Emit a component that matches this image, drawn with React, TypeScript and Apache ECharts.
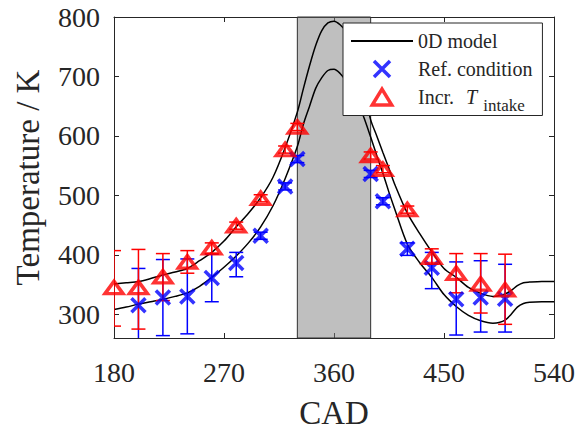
import { useEffect, useRef } from "react";
import * as echarts from "echarts";

// Axis ticks
const cadTicks = [180, 270, 360, 450, 540];
const tempTicks = [300, 400, 500, 600, 700, 800];

// Window around TDC where no measurement is taken
const tdcWindow = [330, 390];

// 0D model traces (CAD, K)
const modelCad = [
  180, 190, 200, 210, 220, 230, 240, 250, 260, 270, 280, 290, 300, 310, 320, 330,
  335, 340, 345, 350, 355, 360, 365, 370, 375, 380, 385, 390, 395, 400, 405, 410,
  420, 430, 440, 450, 460, 470, 480, 490, 495, 500, 505, 510, 515, 520, 530, 540,
];
const modelIncr = [
  351, 353, 355, 360, 366, 371, 377, 390, 404, 423, 447, 470, 496, 530, 580, 640,
  680, 718, 752, 777, 790, 793, 787, 775, 750, 715, 672, 627, 600, 572, 545, 517,
  470, 436, 405, 377, 362, 345, 335, 330, 331, 334, 340, 348, 353, 354, 355, 355,
];
const modelRef = [
  308, 312, 317, 321, 325, 330, 336, 347, 362, 379, 398, 420, 447, 482, 528, 582,
  620, 650, 680, 698, 710, 712, 705, 692, 675, 655, 628, 598, 567, 537, 505, 475,
  418, 387, 362, 333, 313, 298, 289, 285, 286, 290, 300, 312, 318, 320, 321, 321,
];

// Reference condition measurements
const refCad = [200, 220, 240, 260, 280, 300, 320, 330, 390, 400, 420, 440, 460, 480, 500];
const refT = [315, 328, 330, 361, 386, 432, 515, 561, 536, 490, 410, 378, 325, 328, 326];
const refLow = [253, 264, 267, 321, 363, 426, 509, 555, 530, 484, 399, 343, 265, 270, 270];
const refHigh = [377, 392, 393, 401, 404, 438, 521, 567, 542, 496, 420, 404, 388, 390, 384];

// Increased intake temperature measurements
const incrCad = [180, 200, 220, 240, 260, 280, 300, 320, 330, 390, 400, 420, 440, 460, 480, 500];
const incrT = [345, 345, 363, 388, 412, 449, 495, 577, 615, 567, 544, 476, 396, 369, 351, 341];
const incrLow = [280, 275, 323, 369, 402, 443, 489, 571, 609, 561, 538, 470, 384, 336, 302, 283];
const incrHigh = [407, 409, 402, 407, 420, 455, 501, 583, 621, 573, 550, 482, 410, 402, 402, 401];

const FONT = "'Liberation Serif', 'Times New Roman', serif";
const INK = "#262626";
const BLUE = "#0000ff";
const RED = "#ff0000";
const CROSS = "path://M0,0L10,10M0,10L10,0";
const TRIANGLE = "path://M0,14L8.5,0L17,14Z";

const pairs = (xs: number[], ys: number[]) => xs.map((x, i) => [x, ys[i]]);
const triples = (xs: number[], lo: number[], hi: number[]) => xs.map((x, i) => [x, lo[i], hi[i]]);

function errorBars(color: string) {
  return (_params: any, api: any) => {
    const x = api.value(0);
    const lo = api.coord([x, api.value(1)]);
    const hi = api.coord([x, api.value(2)]);
    const hw = 7;
    const style = { stroke: color, lineWidth: 1.5, fill: "none" };
    return {
      type: "group",
      children: [
        { type: "line", shape: { x1: lo[0], y1: lo[1], x2: hi[0], y2: hi[1] }, style },
        { type: "line", shape: { x1: hi[0] - hw, y1: hi[1], x2: hi[0] + hw, y2: hi[1] }, style },
        { type: "line", shape: { x1: lo[0] - hw, y1: lo[1], x2: lo[0] + hw, y2: lo[1] }, style },
      ],
    };
  };
}

const frameAxis = {
  axisLine: { show: true, lineStyle: { color: INK, width: 1 } },
  axisTick: { show: true, inside: true, length: 5, lineStyle: { color: INK } },
  splitLine: { show: false },
};

export default function App() {
  const ref = useRef<HTMLDivElement>(null);

  useEffect(() => {
    if (!ref.current) return;
    document.body.style.margin = "0";
    const chart = echarts.init(ref.current, null, { renderer: "svg" });

    const xBase = { type: "value", min: cadTicks[0], max: cadTicks[cadTicks.length - 1], interval: 90 };
    const yBase = { type: "value", min: 260, max: 800 };

    chart.setOption({
      animation: false,
      backgroundColor: "#ffffff",
      grid: { left: 114, right: 26, top: 17, bottom: 90 },
      xAxis: [
        {
          ...xBase,
          ...frameAxis,
          position: "bottom",
          name: "CAD",
          nameLocation: "middle",
          nameGap: 58,
          nameTextStyle: { fontFamily: FONT, fontSize: 33, color: INK },
          axisLabel: { fontFamily: FONT, fontSize: 28, color: INK, margin: 20 },
        },
        { ...xBase, ...frameAxis, position: "top", axisLabel: { show: false } },
      ],
      yAxis: [
        {
          ...yBase,
          ...frameAxis,
          position: "left",
          axisTick: { ...frameAxis.axisTick, customValues: tempTicks },
          axisLabel: { customValues: tempTicks, fontFamily: FONT, fontSize: 28, color: INK, margin: 14 },
          name: "Temperature / K",
          nameLocation: "middle",
          nameGap: 70,
          nameTextStyle: { fontFamily: FONT, fontSize: 33, color: INK },
        },
        {
          ...yBase,
          ...frameAxis,
          position: "right",
          axisTick: { ...frameAxis.axisTick, customValues: tempTicks },
          axisLabel: { show: false },
        },
      ],
      legend: {
        orient: "vertical",
        left: 343,
        top: 23,
        z: 10,
        backgroundColor: "#ffffff",
        borderColor: INK,
        borderWidth: 1,
        borderRadius: 0,
        padding: [8, 10, 2, 7],
        itemWidth: 62,
        itemHeight: 16,
        itemGap: 8,
        selectedMode: false,
        symbolKeepAspect: true,
        textStyle: {
          fontFamily: FONT,
          fontSize: 20,
          color: INK,
          rich: {
            a: { fontFamily: FONT, fontSize: 20, color: INK },
            t: { fontFamily: FONT, fontSize: 20, color: INK, fontStyle: "italic", padding: [0, 6, 0, 12] },
            s: { fontFamily: FONT, fontSize: 17, color: INK, padding: [16, 0, 0, 0] },
          },
        },
        formatter: (name: string) =>
          name === "Incr. T intake" ? "{a|Incr.}{t|T}{s|intake}" : name,
        data: [
          { name: "0D model", itemStyle: { color: "rgba(0,0,0,0)", borderWidth: 0 } },
          { name: "Ref. condition", icon: CROSS, itemStyle: { color: BLUE, borderColor: BLUE, borderWidth: 3.5 } },
          { name: "Incr. T intake", icon: TRIANGLE, itemStyle: { color: "rgba(255,255,255,0)", borderColor: RED, borderWidth: 3.5 } },
        ],
      },
      series: [
        {
          name: "0D model",
          type: "line",
          data: pairs(modelCad, modelIncr),
          showSymbol: false,
          symbol: "none",
          smooth: 0.3,
          lineStyle: { color: "#000000", width: 1.5 },
          itemStyle: { color: "#000000" },
          z: 2,
        },
        {
          name: "0D model",
          type: "line",
          data: pairs(modelCad, modelRef),
          showSymbol: false,
          symbol: "none",
          smooth: 0.3,
          lineStyle: { color: "#000000", width: 1.5 },
          itemStyle: { color: "#000000" },
          z: 2,
        },
        {
          name: "refErr",
          type: "custom",
          data: triples(refCad, refLow, refHigh),
          renderItem: errorBars(BLUE),
          clip: true,
          encode: { x: 0, y: [1, 2] },
          z: 3,
        },
        {
          name: "incrErr",
          type: "custom",
          data: triples(incrCad, incrLow, incrHigh),
          renderItem: errorBars(RED),
          clip: true,
          encode: { x: 0, y: [1, 2] },
          z: 3,
        },
        {
          name: "Ref. condition",
          type: "scatter",
          data: pairs(refCad, refT),
          symbol: CROSS,
          symbolSize: 14,
          itemStyle: { color: BLUE, borderColor: BLUE, borderWidth: 3.5 },
          z: 4,
        },
        {
          name: "Incr. T intake",
          type: "scatter",
          data: pairs(incrCad, incrT),
          symbol: TRIANGLE,
          symbolSize: [18, 15],
          symbolKeepAspect: true,
          itemStyle: { color: "rgba(255,255,255,0)", borderColor: RED, borderWidth: 3.5 },
          z: 4,
        },
        {
          name: "tdc",
          type: "line",
          data: [],
          silent: true,
          z: 5,
          markArea: {
            silent: true,
            itemStyle: { color: "rgba(128,128,128,0.5)", borderColor: "#303030", borderWidth: 1 },
            data: [[{ xAxis: tdcWindow[0] }, { xAxis: tdcWindow[1] }]],
          },
        },
      ],
    });

    return () => chart.dispose();
  }, []);

  return <div ref={ref} style={{ width: 580, height: 434 }} />;
}
